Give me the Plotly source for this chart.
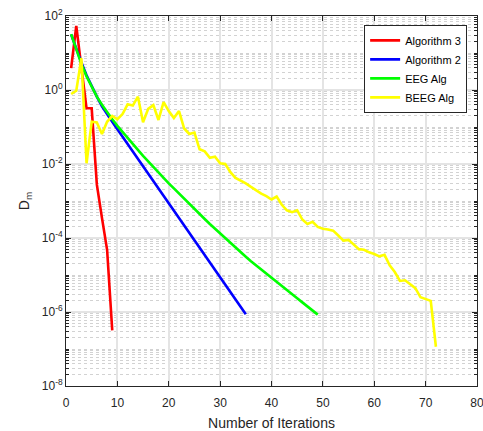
import plotly.graph_objects as go

# Iteration numbers
alg3_x = list(range(1, 10))
alg2_x = list(range(1, 36))
eeg_x = list(range(1, 50))
beeg_x = list(range(1, 73))

# D_m values
alg3_y = [3.9, 54, 4.0, 0.32, 0.32, 2.8e-3, 3.5e-4, 4.8e-5, 3.2e-7]

alg2_y = [31.6, 12.6, 5.5, 2.51, 1.26, 0.66, 0.363, 0.219, 0.138, 0.0871,
          0.0550, 0.0347, 0.0219, 0.0138, 8.71e-3, 5.50e-3, 3.47e-3, 2.19e-3, 1.38e-3, 8.71e-4,
          5.50e-4, 3.47e-4, 2.19e-4, 1.38e-4, 8.71e-5, 5.50e-5, 3.47e-5, 2.19e-5, 1.38e-5, 8.71e-6,
          5.50e-6, 3.47e-6, 2.19e-6, 1.38e-6, 8.71e-7]

eeg_y = [32.4, 12.0, 5.0, 2.34, 1.20, 0.66, 0.40, 0.25, 0.162, 0.107,
         0.0724, 0.0501, 0.0347, 0.0240, 0.0166, 0.0117, 8.3e-3, 5.9e-3, 4.2e-3, 3.0e-3,
         2.19e-3, 1.58e-3, 1.15e-3, 8.3e-4, 6.2e-4, 4.5e-4, 3.27e-4, 2.4e-4, 1.78e-4, 1.32e-4,
         9.8e-5, 7.2e-5, 5.4e-5, 4.1e-5, 3.1e-5, 2.34e-5, 1.80e-5, 1.38e-5, 1.07e-5, 8.3e-6,
         6.5e-6, 5.0e-6, 3.9e-6, 3.0e-6, 2.34e-6, 1.82e-6, 1.41e-6, 1.10e-6, 8.5e-7]

beeg_y = [0.78, 0.95, 7.2, 0.0105, 0.138, 0.132, 0.065, 0.138, 0.20, 0.162,
          0.224, 0.41, 0.38, 0.66, 0.135, 0.31, 0.39, 0.155, 0.47, 0.27,
          0.174, 0.27, 0.091, 0.065, 0.071, 0.025, 0.0219, 0.0148, 0.0158, 0.0105,
          0.0100, 6.0e-3, 4.2e-3, 3.55e-3, 3.0e-3, 2.4e-3, 1.9e-3, 1.58e-3, 1.35e-3, 1.10e-3,
          1.32e-3, 7.9e-4, 5.6e-4, 5.0e-4, 5.6e-4, 3.16e-4, 2.4e-4, 2.75e-4, 2.0e-4, 1.78e-4,
          1.70e-4, 1.58e-4, 1.17e-4, 8.5e-5, 8.9e-5, 6.6e-5, 5.0e-5, 4.8e-5, 4.1e-5, 3.7e-5,
          3.2e-5, 3.5e-5, 1.82e-5, 1.20e-5, 6.9e-6, 7.2e-6, 5.6e-6, 4.4e-6, 2.5e-6, 2.2e-6,
          2.0e-6, 1.15e-7]

series_names = ["Algorithm 3", "Algorithm 2", "EEG Alg", "BEEG Alg"]
series_colors = ["#ff0000", "#0000ff", "#00ff00", "#ffff00"]

x_ticks = [0, 10, 20, 30, 40, 50, 60, 70, 80]
y_tickvals = [1e-8, 1e-6, 1e-4, 1e-2, 1e0, 1e2]
y_ticktext = ["10<sup>-8</sup>", "10<sup>-6</sup>", "10<sup>-4</sup>",
              "10<sup>-2</sup>", "10<sup>0</sup>", "10<sup>2</sup>"]

fig = go.Figure()
for xs, ys, name, color in zip([alg3_x, alg2_x, eeg_x, beeg_x],
                               [alg3_y, alg2_y, eeg_y, beeg_y],
                               series_names, series_colors):
    fig.add_trace(go.Scatter(x=xs, y=ys, mode="lines", name=name,
                             line=dict(color=color, width=2.6)))

base_font = "Liberation Sans, Arial, sans-serif"
axis_font = dict(family=base_font, size=12, color="#262626")

fig.update_layout(
    width=483, height=431,
    margin=dict(l=66, r=6, t=16, b=45),
    paper_bgcolor="white", plot_bgcolor="white",
    font=axis_font,
    showlegend=True,
    legend=dict(x=0.976, y=0.976, xanchor="right", yanchor="top",
                bgcolor="white", bordercolor="#262626", borderwidth=1,
                font=dict(family=base_font, size=11, color="#000000"),
                tracegroupgap=0, itemwidth=30),
    xaxis=dict(range=[0, 80], tickmode="array", tickvals=x_ticks,
               automargin=False,
               showline=True, linecolor="#262626", linewidth=1, mirror="ticks",
               ticks="inside", ticklen=5, tickcolor="#262626",
               ticklabelstandoff=6, ticklabeloverflow="allow",
               showgrid=True, gridcolor="#e4e4e4", gridwidth=1.5, zeroline=False,
               title=dict(text="Number of Iterations",
                          font=dict(family=base_font, size=14, color="#262626"), standoff=11)),
    yaxis=dict(type="log", range=[-8, 2], tickmode="array",
               tickvals=y_tickvals, ticktext=y_ticktext,
               automargin=False, ticklabeloverflow="allow",
               showline=True, linecolor="#262626", linewidth=1, mirror="ticks",
               ticks="inside", ticklen=5, tickcolor="#262626",
               showgrid=True, gridcolor="#e4e4e4", gridwidth=1.5, zeroline=False,
               minor=dict(dtick="D1", showgrid=True, gridcolor="#d2d2d2", griddash="dot",
                          gridwidth=1, ticks="inside", ticklen=3, tickcolor="#262626"),
               title=dict(text="D<sub>m</sub>",
                          font=dict(family=base_font, size=14, color="#262626"), standoff=8)),
)

fig.write_html("out.html",
               config={"displayModeBar": False},
               post_script="document.body.style.margin='0';document.body.style.overflow='hidden';")
